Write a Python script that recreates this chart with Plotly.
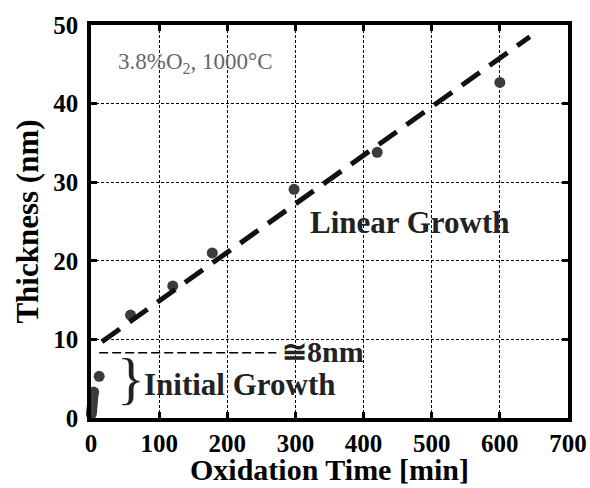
import plotly.graph_objects as go

# Measured oxide thickness (nm) vs oxidation time (min)
time_min = [0.5, 1, 1.5, 2, 2.5, 3, 4, 12, 58, 120, 178, 298, 420, 600]
thickness_nm = [0.5, 0.9, 1.3, 1.8, 2.3, 2.8, 3.3, 5.3, 13.1, 16.8, 21.0, 29.1, 33.8, 42.7]

# Linear growth fit line
fit_x = [16, 644]
fit_y = [9.7, 48.5]

# Initial-growth plateau guide line
plateau_x = [12, 272]
plateau_y = [8.3, 8.3]

x_ticks = [0, 100, 200, 300, 400, 500, 600, 700]
y_ticks = [0, 10, 20, 30, 40, 50]

SERIF = "Liberation Serif, Times New Roman, serif"

fig = go.Figure()
fig.add_trace(go.Scatter(x=plateau_x, y=plateau_y, mode="lines",
                         line=dict(color="black", width=1.6, dash="9px,4px"),
                         showlegend=False, hoverinfo="skip"))
fig.add_trace(go.Scatter(x=time_min, y=thickness_nm, mode="markers",
                         marker=dict(size=11, color="#3c3c3c"),
                         cliponaxis=False, showlegend=False))
fig.add_trace(go.Scatter(x=fit_x, y=fit_y, mode="lines",
                         line=dict(color="#111111", width=5, dash="22px,12px"),
                         showlegend=False, hoverinfo="skip"))

axis_common = dict(
    showline=True, linecolor="black", linewidth=3.5, mirror="ticks",
    ticks="inside", ticklen=6, tickwidth=3, tickcolor="black",
    showgrid=True, gridcolor="black", gridwidth=1.2, griddash="3px,2px",
    zeroline=False, automargin=False,
    tickfont=dict(family=SERIF, size=25, color="black", weight="bold"),
)

fig.update_xaxes(range=[0, 700], tickvals=x_ticks, ticktext=[str(v) for v in x_ticks],
                 ticklabelstandoff=0, **axis_common)
fig.update_yaxes(range=[0, 50], tickvals=y_ticks, ticktext=[str(v) for v in y_ticks],
                 title=dict(text="<b>Thickness (nm)</b>", standoff=6,
                            font=dict(family=SERIF, size=31, color="black")),
                 ticklabelstandoff=4, **axis_common)

# x-axis title placed just under the tick labels
fig.add_annotation(xref="paper", yref="paper", x=0.5, y=0, yanchor="middle",
                   yshift=-51, showarrow=False,
                   text="<b>Oxidation Time [min]</b>",
                   font=dict(family=SERIF, size=30, color="black"))

anns = [
    dict(x=153, y=45.2, text="3.8%O<sub>2</sub>, 1000°C",
         font=dict(family=SERIF, size=23, color="#666666")),
    dict(x=468, y=24.9, text="<b>Linear Growth</b>",
         font=dict(family=SERIF, size=31, color="#222222")),
    dict(x=218, y=4.2, text="<b>Initial Growth</b>",
         font=dict(family=SERIF, size=31, color="#222222")),
    dict(x=58, y=5.0, text="}",
         font=dict(family=SERIF, size=58, color="#222222")),
    dict(x=340, y=8.4, text="<b>≅8nm</b>",
         font=dict(family=SERIF, size=30, color="#222222")),
]
for a in anns:
    fig.add_annotation(xref="x", yref="y", showarrow=False, **a)

fig.update_layout(
    width=590, height=488,
    margin=dict(l=91, r=22, t=25, b=70),
    paper_bgcolor="white", plot_bgcolor="white",
    font=dict(family=SERIF),
)

fig.write_html("out.html")
